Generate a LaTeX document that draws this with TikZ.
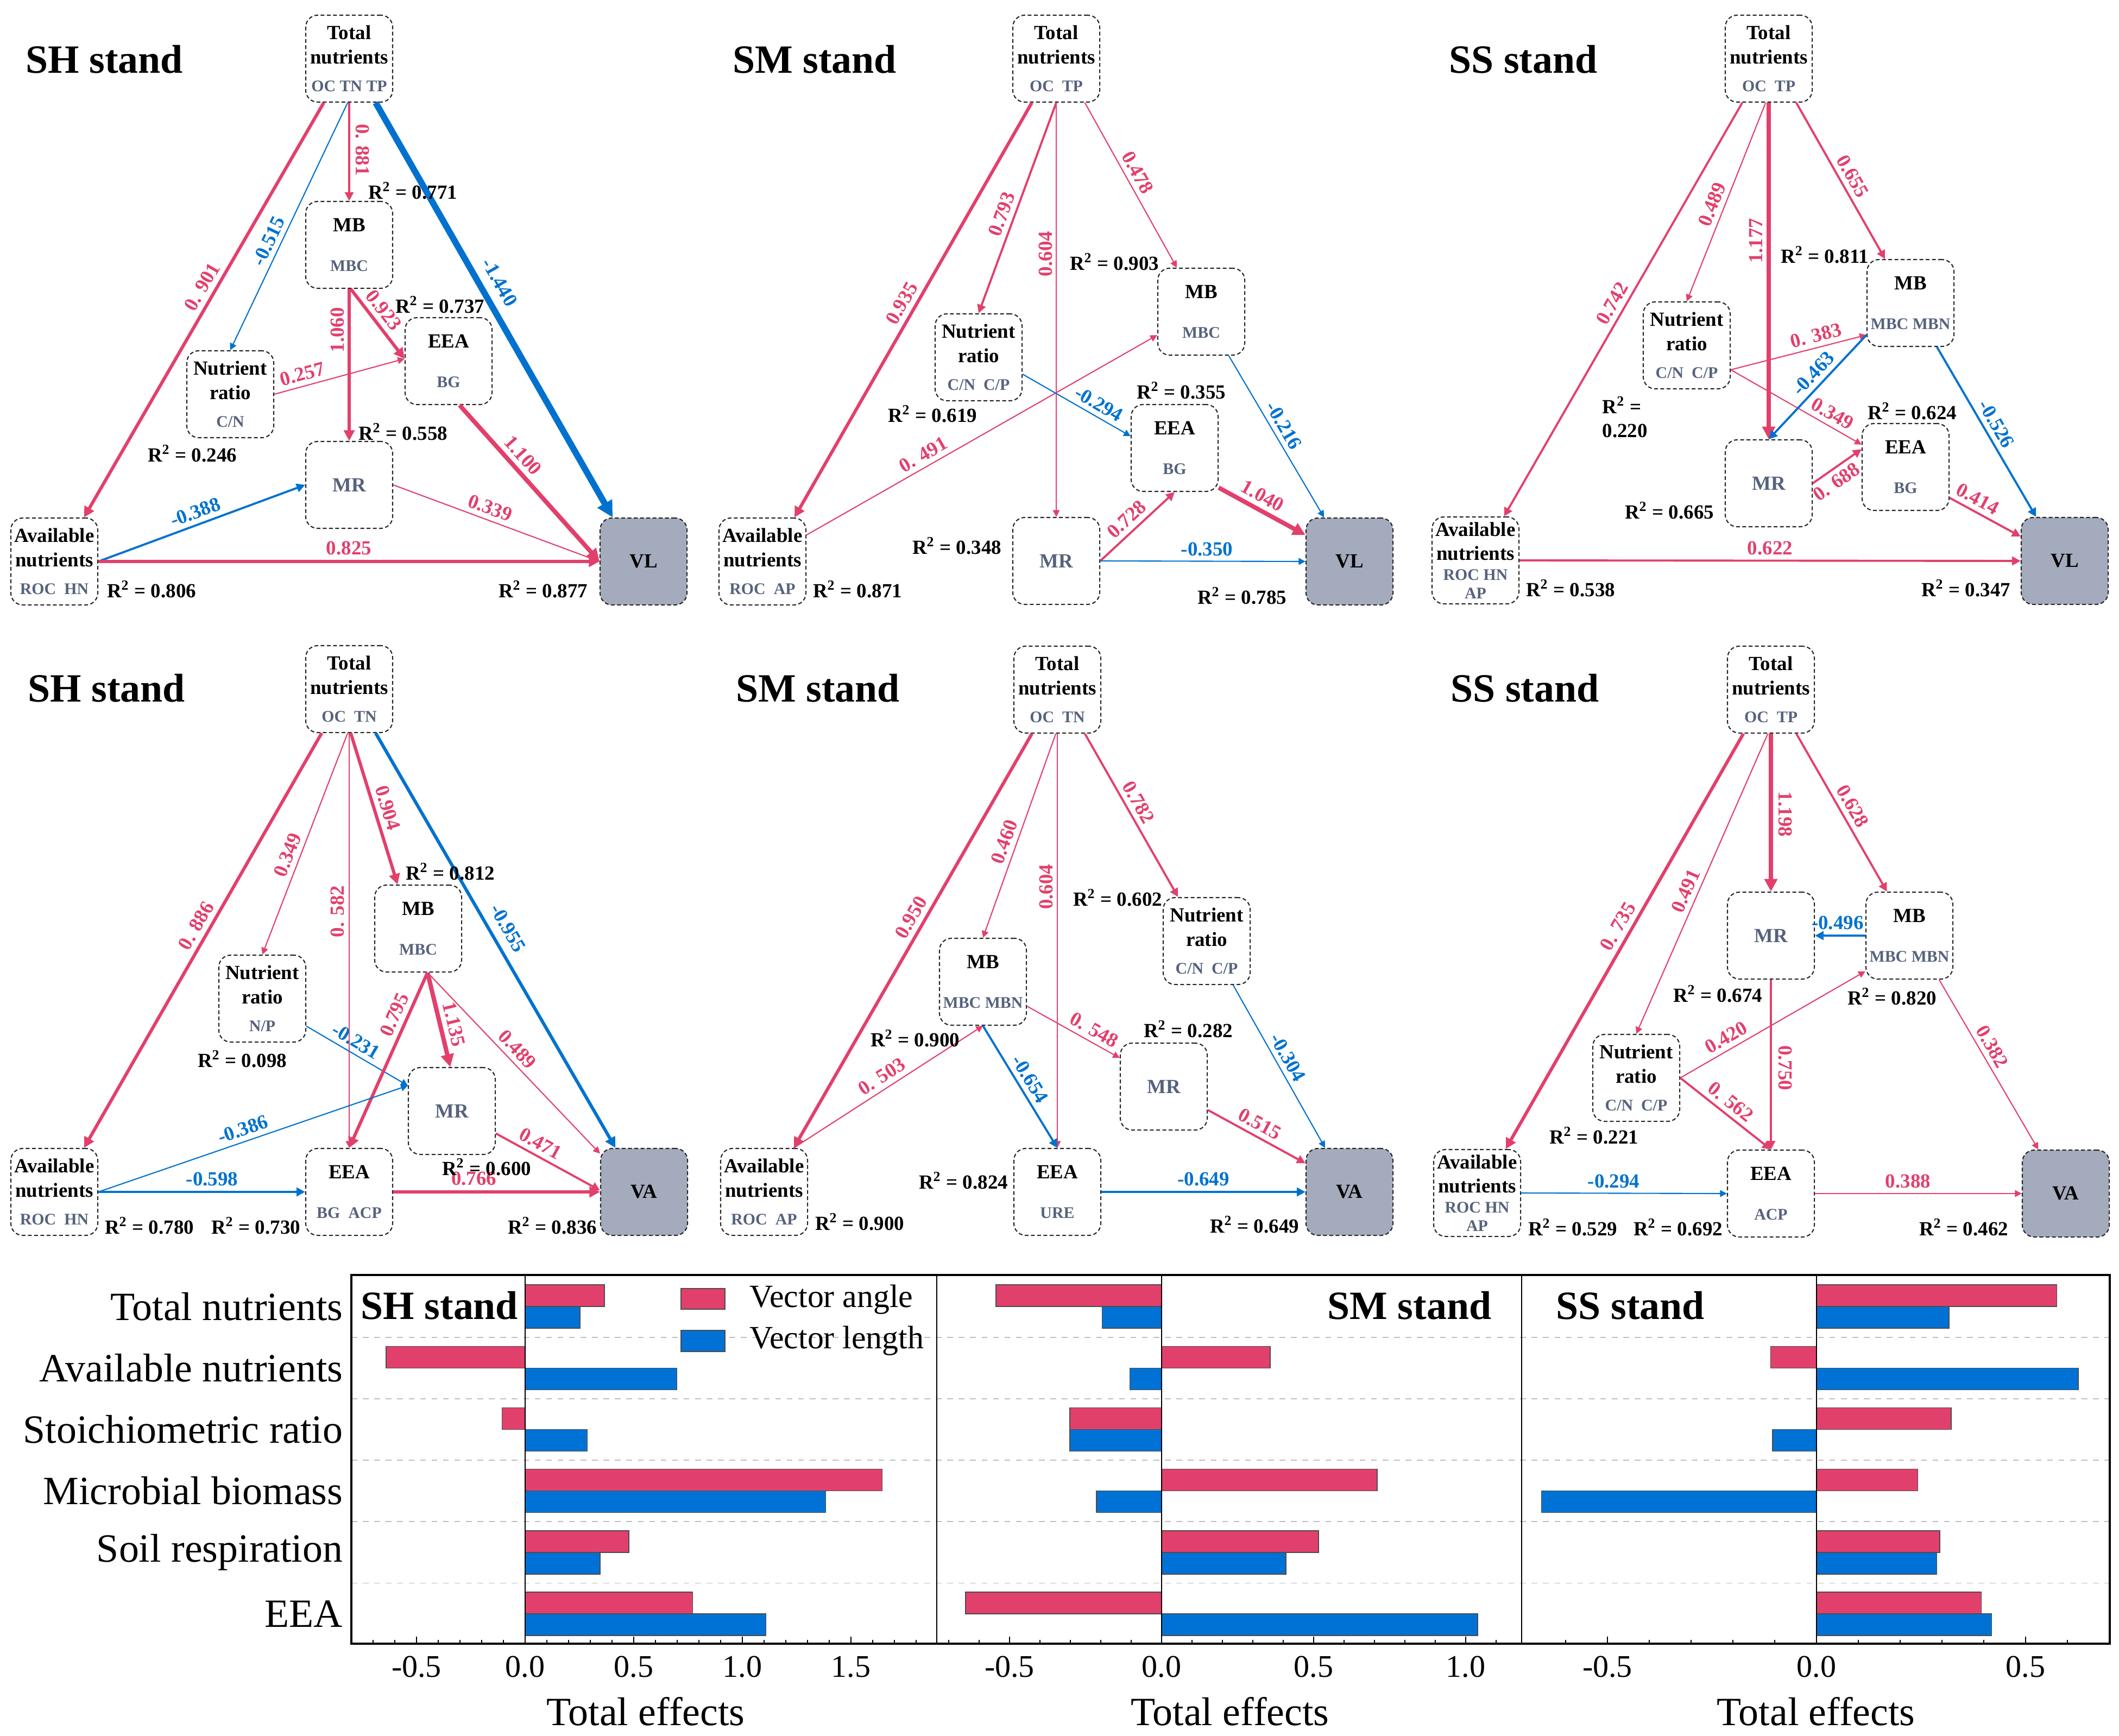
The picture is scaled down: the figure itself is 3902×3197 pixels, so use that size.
\documentclass[tikz,border=0pt]{standalone}
\usepackage{fontspec}
\setmainfont{Liberation Serif}
\usetikzlibrary{arrows.meta}
\definecolor{posc}{RGB}{226,64,108}
\definecolor{negc}{RGB}{0,114,206}
\definecolor{subc}{RGB}{86,98,125}
\definecolor{boxgray}{RGB}{164,171,189}
\definecolor{barred}{RGB}{226,64,108}
\definecolor{barblue}{RGB}{0,114,214}
\newcommand{\subv}[1]{{\fontsize{8.5}{10}\selectfont\color{subc}#1}}
\newcommand{\rtwo}[1]{R\textsuperscript{2} = #1}
\tikzstyle{var} = [rectangle, rounded corners=0.22cm, draw=black!85, line width=0.6pt, dash pattern=on 0.7mm off 0.45mm, minimum width=1.6cm, minimum height=1.6cm, inner sep=0pt, align=center, font=\fontsize{10.5}{12.6}\selectfont\bfseries]
\tikzstyle{resp} = [var, fill=boxgray]
\tikzstyle{pa} = [color=posc, -{Triangle[length=2.5pt 1.8, width=2.5pt 1.8]}]
\tikzstyle{na} = [color=negc, -{Triangle[length=2.5pt 1.8, width=2.5pt 1.8]}]
\tikzstyle{w1} = [line width=0.6pt]
\tikzstyle{w2} = [line width=1.1pt]
\tikzstyle{w3} = [line width=1.7pt]
\tikzstyle{w4} = [line width=2.3pt]
\tikzstyle{w5} = [line width=3.3pt]
\tikzstyle{coef} = [font=\fontsize{10.5}{12}\selectfont\bfseries, inner sep=2.5pt]
\tikzstyle{rsq} = [font=\fontsize{10.5}{12.6}\selectfont\bfseries, inner sep=0pt]
\tikzstyle{paneltitle} = [font=\fontsize{21}{25}\selectfont\bfseries]
\tikzstyle{catlab} = [font=\fontsize{21}{25}\selectfont, anchor=east, inner sep=0pt]
\tikzstyle{ticklab} = [font=\fontsize{16.5}{20}\selectfont]
\tikzstyle{legtext} = [font=\fontsize{17}{20}\selectfont, anchor=west, inner sep=0pt]
\tikzstyle{barbox} = [draw=black!70, line width=0.4pt]
\tikzstyle{gridln} = [draw=black!25, dashed, line width=0.5pt]

\begin{document}
\begin{tikzpicture}[x=0.01cm, y=-0.01cm]
\useasboundingbox (0,0) rectangle (3902,3197);

% ---- VL, SH stand
\node[paneltitle] (t1) at (192,109) {SH stand};
\node[var] (tn1) at (643,108) {Total\\nutrients\\[2pt]\subv{OC TN TP}};
\node[var] (mb1) at (643,451) {MB\\[8pt]\subv{MBC}};
\node[var] (eea1) at (826,665) {EEA\\[8pt]\subv{BG}};
\node[var] (nr1) at (424,726) {Nutrient\\ratio\\[2pt]\subv{C/N}};
\node[var] (mr1) at (643,893) {\textcolor{subc}{MR}};
\node[var] (an1) at (100,1034) {Available\\nutrients\\[2pt]\subv{ROC~~HN}};
\node[resp] (vl1) at (1185,1034) {VL};

\draw[pa,w3] (tn1.240) -- node[coef,sloped,above,pos=.46]{0. 901} (an1.56);
\draw[na,w1] (tn1.268) -- node[coef,sloped,above,pos=.58]{-0.515} (nr1.90);
\draw[pa,w2] (tn1.south) -- node[coef,pos=.48,xshift=0.24cm,rotate=-90]{0. 881} (mb1.north);
\draw[na,w5] (tn1.301) -- node[coef,sloped,above=2pt,pos=.455]{-1.440} (vl1.125);
\draw[pa,w3] (mb1.272) -- node[coef,sloped,above,pos=.42]{0.923} (eea1.177);
\draw[pa,w3] (mb1.south) -- node[coef,pos=.27,xshift=-0.22cm,rotate=90]{1.060} (mr1.north);
\draw[pa,w1] (nr1.east) -- node[coef,sloped,above,pos=.24]{0.257} (eea1.177);
\draw[na,w2] (an1.east) -- node[coef,sloped,above,pos=.49]{-0.388} (mr1.west);
\draw[pa,w1] (mr1.east) -- node[coef,sloped,above,pos=.45]{0.339} (vl1.west);
\draw[pa,w4] (eea1.284) -- node[coef,sloped,above,pos=.38]{1.100} (vl1.west);
\draw[pa,w3] (an1.east) -- node[coef,above,pos=.5]{0.825} (vl1.west);

\node[rsq] (r1a) at (760,351) {\rtwo{0.771}};
\node[rsq] (r1b) at (810,561) {\rtwo{0.737}};
\node[rsq] (r1c) at (354,835) {\rtwo{0.246}};
\node[rsq] (r1d) at (742,795) {\rtwo{0.558}};
\node[rsq] (r1e) at (279,1085) {\rtwo{0.806}};
\node[rsq] (r1f) at (1000,1085) {\rtwo{0.877}};

% ---- VL, SM stand
\node[paneltitle] (t2) at (1500,109) {SM stand};
\node[var] (tn2) at (1945,108) {Total\\nutrients\\[2pt]\subv{OC~~TP}};
\node[var] (nr2) at (1802,658) {Nutrient\\ratio\\[2pt]\subv{C/N~~C/P}};
\node[var] (mb2) at (2212,574) {MB\\[8pt]\subv{MBC}};
\node[var] (eea2) at (2163,825) {EEA\\[8pt]\subv{BG}};
\node[var] (mr2) at (1945,1033) {\textcolor{subc}{MR}};
\node[var] (an2) at (1404,1034) {Available\\nutrients\\[2pt]\subv{ROC~~AP}};
\node[resp] (vl2) at (2485,1034) {VL};

\draw[pa,w3] (tn2.241) -- node[coef,sloped,above,pos=.5]{0.935} (an2.54);
\draw[pa,w2] (tn2.south) -- node[coef,sloped,above,pos=.55]{0.793} (nr2.north);
\draw[pa,w1] (tn2.south) -- node[coef,pos=.365,xshift=-0.2cm,rotate=90]{0.604} (mr2.north);
\draw[pa,w1] (tn2.303) -- node[coef,sloped,above,pos=.46]{0.478} (mb2.119);
\draw[pa,w1] (an2.31) -- node[coef,sloped,above,pos=.35]{0. 491} (mb2.208);
\draw[na,w1] (nr2.339) -- node[coef,sloped,above,pos=.65]{-0.294} (eea2.165);
\draw[na,w1] (mb2.302) -- node[coef,sloped,above,pos=.47]{-0.216} (vl2.120);
\draw[pa,w4] (eea2.318) -- node[coef,sloped,above,pos=.43]{1.040} (vl2.149);
\draw[pa,w2] (mr2.east) -- node[coef,sloped,above,pos=.47]{0.728} (eea2.south);
\draw[na,w1] (mr2.east) -- node[coef,above,pos=.52]{-0.350} (vl2.west);

\node[rsq] (r2a) at (2052,482) {\rtwo{0.903}};
\node[rsq] (r2b) at (1717,762) {\rtwo{0.619}};
\node[rsq] (r2c) at (2175,719) {\rtwo{0.355}};
\node[rsq] (r2d) at (1762,1005) {\rtwo{0.348}};
\node[rsq] (r2e) at (1579,1085) {\rtwo{0.871}};
\node[rsq] (r2f) at (2287,1097) {\rtwo{0.785}};

% ---- VL, SS stand
\node[paneltitle] (t3) at (2805,109) {SS stand};
\node[var] (tn3) at (3257,108) {Total\\nutrients\\[2pt]\subv{OC~~TP}};
\node[var] (nr3) at (3106,636) {Nutrient\\ratio\\[2pt]\subv{C/N~~C/P}};
\node[var] (mb3) at (3518,558) {MB\\[8pt]\subv{MBC MBN}};
\node[var] (eea3) at (3509,860) {EEA\\[8pt]\subv{BG}};
\node[var] (mr3) at (3257,890) {\textcolor{subc}{MR}};
\node[var] (an3) at (2717,1032) {Available\\nutrients\\[-2pt]\subv{ROC HN}\\[-3pt]\subv{AP}};
\node[resp] (vl3) at (3802,1033) {VL};

\draw[pa,w2] (tn3.239) -- node[coef,sloped,above,pos=.5]{0.742} (an3.57);
\draw[pa,w1] (tn3.266) -- node[coef,sloped,above,pos=.535]{0.489} (nr3.north);
\draw[pa,w4] (tn3.south) -- node[coef,pos=.41,xshift=-0.23cm,rotate=90]{1.177} (mr3.north);
\draw[pa,w2] (tn3.302) -- node[coef,sloped,above,pos=.51]{0.655} (mb3.120);
\draw[pa,w1] (nr3.331) -- node[coef,sloped,above,pos=.65]{0. 383} (mb3.216);
\draw[pa,w1] (nr3.331) -- node[coef,sloped,above,pos=.73]{0.349} (eea3.153);
\draw[na,w2] (mb3.216) -- node[coef,sloped,above,pos=.45]{-0.463} (mr3.north);
\draw[pa,w2] (mr3.east) -- node[coef,sloped,below,pos=.34]{0. 688} (eea3.158);
\draw[na,w2] (mb3.301) -- node[coef,sloped,above,pos=.49]{-0.526} (vl3.123);
\draw[pa,w2] (eea3.325) -- node[coef,sloped,above,pos=.31]{0.414} (vl3.151);
\draw[pa,w2] (an3.east) -- node[coef,above,pos=.5]{0.622} (vl3.west);

\node[rsq] (r3a) at (3360,469) {\rtwo{0.811}};
\node[rsq, align=left, anchor=west] (r3b) at (2950,768) {R\textsuperscript{2} =\\0.220};
\node[rsq] (r3c) at (3521,757) {\rtwo{0.624}};
\node[rsq] (r3d) at (3074,940) {\rtwo{0.665}};
\node[rsq] (r3e) at (2892,1083) {\rtwo{0.538}};
\node[rsq] (r3f) at (3620,1083) {\rtwo{0.347}};

% ---- VA, SH stand
\node[paneltitle] (t4) at (196,1267) {SH stand};
\node[var] (tn4) at (643,1269) {Total\\nutrients\\[2pt]\subv{OC~~TN}};
\node[var] (mb4) at (770,1710) {MB\\[8pt]\subv{MBC}};
\node[var] (nr4) at (483,1839) {Nutrient\\ratio\\[2pt]\subv{N/P}};
\node[var] (mr4) at (832,2046) {\textcolor{subc}{MR}};
\node[var] (eea4) at (643,2195) {EEA\\[8pt]\subv{BG~~ACP}};
\node[var] (an4) at (100,2195) {Available\\nutrients\\[2pt]\subv{ROC~~HN}};
\node[resp] (va4) at (1186,2195) {VA};

\draw[pa,w3] (tn4.238) -- node[coef,sloped,above,pos=.48]{0. 886} (an4.56);
\draw[pa,w1] (tn4.268) -- node[coef,sloped,above,pos=.57]{0.349} (nr4.north);
\draw[pa,w1] (tn4.south) -- node[coef,pos=.43,xshift=-0.22cm,rotate=90]{0. 582} (eea4.north);
\draw[pa,w3] (tn4.272) -- node[coef,sloped,above,pos=.52]{0.904} (mb4.115);
\draw[na,w3] (tn4.301) -- node[coef,sloped,above=2pt,pos=.49]{-0.955} (va4.123);
\draw[na,w1] (nr4.328) -- node[coef,sloped,above,pos=.43]{-0.231} (mr4.150);
\draw[pa,w3] (mb4.282) -- node[coef,sloped,above,pos=.27]{0.795} (eea4.north);
\draw[pa,w4] (mb4.282) -- node[coef,sloped,above,pos=.58]{1.135} (mr4.92);
\draw[pa,w1] (mb4.282) -- node[coef,sloped,above,pos=.47]{0.489} (va4.139);
\draw[na,w1] (an4.east) -- node[coef,sloped,above,pos=.48]{-0.386} (mr4.150);
\draw[na,w2] (an4.east) -- node[coef,above,pos=.55]{-0.598} (eea4.west);
\draw[pa,w2] (mr4.333) -- node[coef,sloped,above,pos=.37]{0.471} (va4.178);
\draw[pa,w3] (eea4.east) -- node[coef,above,pos=.39]{0.766} (va4.west);

\node[rsq] (r4a) at (829,1605) {\rtwo{0.812}};
\node[rsq] (r4b) at (446,1950) {\rtwo{0.098}};
\node[rsq] (r4c) at (896,2149) {\rtwo{0.600}};
\node[rsq] (r4d) at (275,2257) {\rtwo{0.780}};
\node[rsq] (r4e) at (471,2257) {\rtwo{0.730}};
\node[rsq] (r4f) at (1017,2257) {\rtwo{0.836}};

% ---- VA, SM stand
\node[paneltitle] (t5) at (1506,1267) {SM stand};
\node[var] (tn5) at (1947,1270) {Total\\nutrients\\[2pt]\subv{OC~~TN}};
\node[var] (mb5) at (1810,1808) {MB\\[8pt]\subv{MBC MBN}};
\node[var] (nr5) at (2222,1733) {Nutrient\\ratio\\[2pt]\subv{C/N~~C/P}};
\node[var] (mr5) at (2143,2001) {\textcolor{subc}{MR}};
\node[var] (eea5) at (1947,2195) {EEA\\[8pt]\subv{URE}};
\node[var] (an5) at (1407,2195) {Available\\nutrients\\[2pt]\subv{ROC~~AP}};
\node[resp] (va5) at (2485,2195) {VA};

\draw[pa,w3] (tn5.240) -- node[coef,sloped,above,pos=.46]{0.950} (an5.56);
\draw[pa,w1] (tn5.268) -- node[coef,sloped,above,pos=.55]{0.460} (mb5.north);
\draw[pa,w1] (tn5.south) -- node[coef,pos=.37,xshift=-0.21cm,rotate=90]{0.604} (eea5.north);
\draw[pa,w2] (tn5.302) -- node[coef,sloped,above,pos=.46]{0.782} (nr5.123);
\draw[pa,w1] (an5.56) -- node[coef,sloped,above,pos=.5]{0. 503} (mb5.south);
\draw[na,w2] (mb5.south) -- node[coef,sloped,above,pos=.49]{-0.654} (eea5.north);
\draw[pa,w1] (mb5.331) -- node[coef,sloped,above,pos=.66]{0. 548} (mr5.147);
\draw[na,w1] (nr5.301) -- node[coef,sloped,above,pos=.48]{-0.304} (va5.119);
\draw[pa,w2] (mr5.332) -- node[coef,sloped,above,pos=.47]{0.515} (va5.147);
\draw[na,w2] (eea5.east) -- node[coef,above,pos=.5]{-0.649} (va5.west);

\node[rsq] (r5a) at (2058,1653) {\rtwo{0.602}};
\node[rsq] (r5b) at (1685,1912) {\rtwo{0.900}};
\node[rsq] (r5c) at (2188,1895) {\rtwo{0.282}};
\node[rsq] (r5d) at (1774,2174) {\rtwo{0.824}};
\node[rsq] (r5e) at (1583,2250) {\rtwo{0.900}};
\node[rsq] (r5f) at (2310,2255) {\rtwo{0.649}};

% ---- VA, SS stand
\node[paneltitle] (t6) at (2808,1267) {SS stand};
\node[var] (tn6) at (3261,1270) {Total\\nutrients\\[2pt]\subv{OC~~TP}};
\node[var] (mr6) at (3261,1723) {\textcolor{subc}{MR}};
\node[var] (mb6) at (3516,1723) {MB\\[8pt]\subv{MBC MBN}};
\node[var] (nr6) at (3013,1985) {Nutrient\\ratio\\[2pt]\subv{C/N~~C/P}};
\node[var] (eea6) at (3261,2198) {EEA\\[8pt]\subv{ACP}};
\node[var] (an6) at (2720,2197) {Available\\nutrients\\[-2pt]\subv{ROC HN}\\[-3pt]\subv{AP}};
\node[resp] (va6) at (3804,2198) {VA};

\draw[pa,w3] (tn6.238) -- node[coef,sloped,above,pos=.48]{0. 735} (an6.57);
\draw[pa,w1] (tn6.266) -- node[coef,sloped,above,pos=.54]{0.491} (nr6.north);
\draw[pa,w4] (tn6.south) -- node[coef,pos=.51,xshift=0.26cm,rotate=-90]{1.198} (mr6.north);
\draw[pa,w2] (tn6.300) -- node[coef,sloped,above,pos=.5]{0.628} (mb6.117);
\draw[na,w2] (mb6.west) -- node[coef,above,pos=.55]{-0.496} (mr6.east);
\draw[pa,w2] (mr6.south) -- node[coef,pos=.52,xshift=0.26cm,rotate=-90]{0.750} (eea6.north);
\draw[pa,w1] (nr6.east) -- node[coef,sloped,above,pos=.28]{0.420} (mb6.219);
\draw[pa,w2] (nr6.east) -- node[coef,sloped,above,pos=.47]{0. 562} (eea6.north);
\draw[pa,w1] (mb6.304) -- node[coef,sloped,above,pos=.43]{0.382} (va6.122);
\draw[na,w1] (an6.east) -- node[coef,above,pos=.45]{-0.294} (eea6.west);
\draw[pa,w1] (eea6.east) -- node[coef,above,pos=.45]{0.388} (va6.west);

\node[rsq] (r6a) at (3163,1830) {\rtwo{0.674}};
\node[rsq] (r6b) at (3484,1835) {\rtwo{0.820}};
\node[rsq] (r6c) at (2935,2091) {\rtwo{0.221}};
\node[rsq] (r6d) at (2896,2260) {\rtwo{0.529}};
\node[rsq] (r6e) at (3090,2260) {\rtwo{0.692}};
\node[rsq] (r6f) at (3616,2260) {\rtwo{0.462}};

% ---- total effects
\foreach \g in {0,...,4}
  \draw[gridln] (647,2462.6+113.2*\g) -- (3885,2462.6+113.2*\g);
\foreach \c [count=\i from 0] in {Total nutrients, Available nutrients, Stoichiometric ratio, Microbial biomass, Soil respiration, EEA}
  \node[catlab] (cat\i) at (632,2406+113.2*\i) {\c};

\foreach \r/\b [count=\i from 0] in {0.365/0.2525, -0.64/0.698, -0.107/0.286, 1.643/1.383, 0.477/0.345, 0.771/1.108}{
  \draw[barbox, fill=barred] (967,2366+113.2*\i) rectangle ({967+400*(\r)},{2406+113.2*\i});
  \draw[barbox, fill=barblue] (967,2406+113.2*\i) rectangle ({967+400*(\b)},{2446+113.2*\i});
}
\foreach \r/\b [count=\i from 0] in {-0.545/-0.196, 0.357/-0.104, -0.302/-0.302, 0.709/-0.214, 0.516/0.409, -0.645/1.039}{
  \draw[barbox, fill=barred] (2139,2366+113.2*\i) rectangle ({2139+560*(\r)},{2406+113.2*\i});
  \draw[barbox, fill=barblue] (2139,2406+113.2*\i) rectangle ({2139+560*(\b)},{2446+113.2*\i});
}
\foreach \r/\b [count=\i from 0] in {0.575/0.317, -0.11/0.626, 0.322/-0.105, 0.242/-0.658, 0.295/0.288, 0.394/0.419}{
  \draw[barbox, fill=barred] (3345,2366+113.2*\i) rectangle ({3345+770*(\r)},{2406+113.2*\i});
  \draw[barbox, fill=barblue] (3345,2406+113.2*\i) rectangle ({3345+770*(\b)},{2446+113.2*\i});
}

\draw[line width=0.5pt] (967,2348) -- (967,3027);
\draw[line width=0.5pt] (2139,2348) -- (2139,3027);
\draw[line width=0.5pt] (3345,2348) -- (3345,3027);
\draw[line width=0.6pt] (1725,2348) -- (1725,3027);
\draw[line width=0.6pt] (2802,2348) -- (2802,3027);
\draw[line width=0.9pt] (647,2348) rectangle (3885,3027);

\foreach \x in {-7,...,18} \draw[line width=0.6pt] (967+40*\x,3027) -- ++(0,-7);
\foreach \x in {-7,...,11} \draw[line width=0.6pt] (2139+56*\x,3027) -- ++(0,-7);
\foreach \x in {-6,...,6} \draw[line width=0.6pt] (3345+77*\x,3027) -- ++(0,-7);
\foreach \x/\l in {-1/-0.5, 0/0.0, 1/0.5, 2/1.0, 3/1.5}{
  \draw[line width=0.6pt] (967+200*\x,3027) -- ++(0,-13);
  \node[ticklab] (ta\x) at (967+200*\x,3070) {\l};
}
\foreach \x/\l in {-1/-0.5, 0/0.0, 1/0.5, 2/1.0}{
  \draw[line width=0.6pt] (2139+280*\x,3027) -- ++(0,-13);
  \node[ticklab] (tb\x) at (2139+280*\x,3070) {\l};
}
\foreach \x/\l in {-1/-0.5, 0/0.0, 1/0.5}{
  \draw[line width=0.6pt] (3345+385*\x,3027) -- ++(0,-13);
  \node[ticklab] (tc\x) at (3345+385*\x,3070) {\l};
}
\node[catlab, anchor=center] (xa) at (1189,3152) {Total effects};
\node[catlab, anchor=center] (xb) at (2265,3152) {Total effects};
\node[catlab, anchor=center] (xc) at (3344,3152) {Total effects};

\node[paneltitle, anchor=west, inner sep=0pt] (s1) at (664,2404) {SH stand};
\node[paneltitle, anchor=east, inner sep=0pt] (s2) at (2747,2404) {SM stand};
\node[paneltitle, anchor=west, inner sep=0pt] (s3) at (2865,2404) {SS stand};

\draw[barbox, fill=barred] (1254,2373) rectangle (1335,2411);
\draw[barbox, fill=barblue] (1254,2450) rectangle (1335,2489);
\node[legtext] (lg1) at (1380,2393) {Vector angle};
\node[legtext] (lg2) at (1380,2469) {Vector length};
\end{tikzpicture}
\end{document}
